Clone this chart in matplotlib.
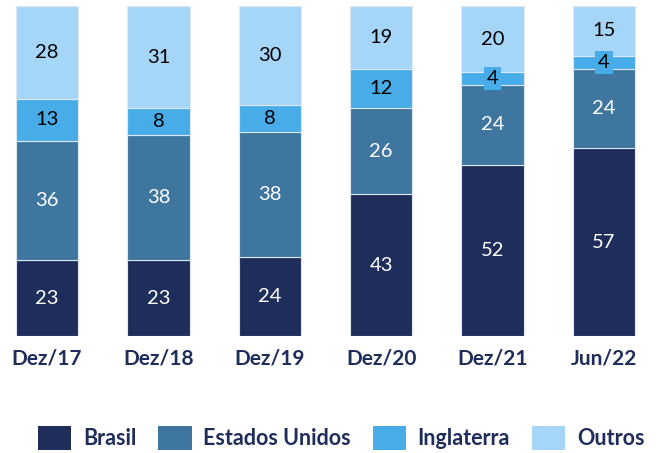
import matplotlib.pyplot as plt
from matplotlib.patches import Patch

periodos = ["Dez/17", "Dez/18", "Dez/19", "Dez/20", "Dez/21", "Jun/22"]
brasil = [23, 23, 24, 43, 52, 57]
estados_unidos = [36, 38, 38, 26, 24, 24]
inglaterra = [13, 8, 8, 12, 4, 4]
outros = [28, 31, 30, 19, 20, 15]

series = [
    ("Brasil", brasil, "#1f2d5a", "white"),
    ("Estados Unidos", estados_unidos, "#3f76a0", "white"),
    ("Inglaterra", inglaterra, "#47ace8", "black"),
    ("Outros", outros, "#a6d6f7", "black"),
]

plt.rcParams["font.family"] = ["Lato", "DejaVu Sans"]

fig = plt.figure(figsize=(6.69, 4.53), dpi=100)
ax = fig.add_axes([0, 0.258, 1, 0.7285])

x = range(len(periodos))
base = [0] * len(periodos)
for nome, valores, cor, cor_texto in series:
    barras = ax.bar(x, valores, bottom=base, width=0.56, color=cor,
                    edgecolor="#dde8f2", linewidth=0.8, label=nome)
    for b, v in zip(barras, valores):
        cx = b.get_x() + b.get_width() / 2
        cy = b.get_y() + b.get_height() / 2
        caixa = None
        if nome == "Inglaterra":
            caixa = dict(boxstyle="square,pad=0.15", fc=cor, ec="none")
        ax.text(cx, cy, str(v), ha="center", va="center", fontsize=14.5,
                color=cor_texto, bbox=caixa)
    base = [b + v for b, v in zip(base, valores)]

ax.set_xlim(-0.422, 5.584)
ax.set_ylim(0, 100)
ax.set_xticks(list(x))
ax.set_xticklabels(periodos, fontsize=15, fontweight="bold", color="#1f2d5a")
ax.tick_params(axis="x", length=0, pad=9)
ax.set_yticks([])
for lado in ax.spines.values():
    lado.set_visible(False)

handles = [Patch(facecolor=c, edgecolor="none") for _, _, c, _ in series]
nomes = [n for n, _, _, _ in series]
leg = fig.legend(handles, nomes, loc="center", bbox_to_anchor=(0.51, 0.033),
                 ncol=4, frameon=False, handlelength=1.55, handleheight=1.35,
                 handletextpad=0.55, columnspacing=1.0,
                 prop={"size": 15.5, "weight": "bold"})
for t in leg.get_texts():
    t.set_color("#1f2d5a")

fig.savefig("out.png", dpi=100)
